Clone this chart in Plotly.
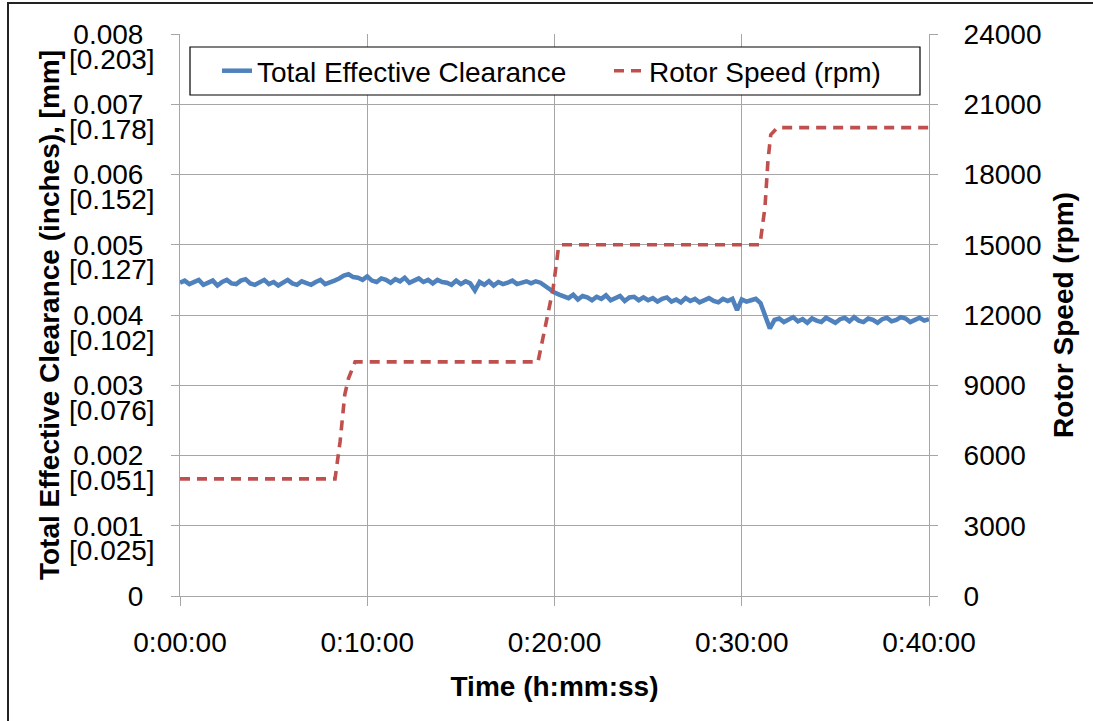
import plotly.graph_objects as go

# ---- data -------------------------------------------------------------
# Clearance trace sampled every 0.25 min, values in 1e-5 inch
clear_e5 = [
    # 0.00 - 8.00 min
    446, 449, 444, 447, 450, 443, 446, 449, 442, 447, 450, 445, 444, 449, 451, 445, 443,
    447, 450, 444, 447, 442, 446, 450, 445, 443, 448, 446, 443, 447, 450, 444, 446,
    # 8.25 - 9.50
    449, 452, 456, 458, 454, 453,
    # 9.75 - 14.00
    450, 455, 449, 447, 452, 450, 446, 451, 448, 453, 446, 449, 452, 447, 450, 445, 450, 447,
    # 14.25 - 19.25
    446, 443, 449, 444, 448, 445, 435, 447, 443, 448, 442, 447, 444, 446, 449, 444, 446,
    448, 445, 448, 446,
    # 19.50 - 20.50
    441, 436, 432, 429, 427,
    # 20.75 - 25.00
    424, 429, 422, 427, 425, 421, 426, 423, 428, 421, 424, 427, 420, 425, 426, 421, 425, 421,
    # 25.25 - 30.75
    424, 419, 423, 425, 419, 422, 418, 424, 420, 423, 418, 421, 424, 420, 418, 423, 420,
    423, 407, 422, 419, 421, 423,
    # 31.00 - 31.75
    417, 398, 381, 393,
    # 32.00 - 40.00
    395, 390, 393, 397, 391, 394, 389, 395, 392, 390, 396, 393, 389, 394, 396, 391, 397,
    392, 390, 395, 393, 389, 394, 396, 391, 393, 397, 395, 390, 393, 396, 392, 394,
]
clear_t = [i * 0.25 for i in range(len(clear_e5))]
clearance_in = [v / 1e5 for v in clear_e5]

# Rotor speed set-point history
speed_t = [0, 8.28, 8.55, 8.8, 9.0, 9.35, 19.12, 19.6, 19.92, 20.2, 20.35,
           30.97, 31.24, 31.4, 31.55, 31.9, 40]
speed_rpm = [5000, 5000, 6600, 8600, 9300, 10000, 10000, 11900, 13100, 14800, 15000,
             15000, 16600, 18600, 19700, 20000, 20000]

# Axis ticks
x_tickvals = [0, 10, 20, 30, 40]
x_ticktext = ["0:00:00", "0:10:00", "0:20:00", "0:30:00", "0:40:00"]
in_tickvals = [0, 0.001, 0.002, 0.003, 0.004, 0.005, 0.006, 0.007, 0.008]
in_ticktext = ["0", "0.001", "0.002", "0.003", "0.004", "0.005", "0.006", "0.007", "0.008"]
mm_tickvals = [0.001, 0.002, 0.003, 0.004, 0.005, 0.006, 0.007, 0.008]
mm_ticktext = ["[0.025]", "[0.051]", "[0.076]", "[0.102]", "[0.127]", "[0.152]", "[0.178]", "[0.203]"]
rpm_tickvals = [0, 3000, 6000, 9000, 12000, 15000, 18000, 21000, 24000]

# ---- layout geometry (pixels) -----------------------------------------
W, H = 1093, 721
L, R, T, B = 180, 929, 34, 596
PW, PH = R - L, B - T


def px(x):
    return (x - L) / PW


def py(y):
    return (B - y) / PH


FONT = "Liberation Sans, Arial, sans-serif"
FS = 28
GRID = "#a6a6a6"

fig = go.Figure()
fig.add_trace(go.Scatter(
    x=clear_t, y=clearance_in, mode="lines", name="Total Effective Clearance",
    line=dict(color="#4F81BD", width=4.5), yaxis="y", legend="legend",
))
fig.add_trace(go.Scatter(
    x=speed_t, y=speed_rpm, mode="lines", name="Rotor Speed (rpm)",
    line=dict(color="#C0504D", width=3.6, dash="10px,7px"), yaxis="y2", legend="legend2",
))

shapes = [
    # outer chart frame
    dict(type="rect", xref="paper", yref="paper", x0=px(8), x1=px(1110), y0=py(740), y1=py(3),
         line=dict(color="#222222", width=2), fillcolor="rgba(0,0,0,0)", layer="above"),
    # legend frame
    dict(type="rect", xref="paper", yref="paper", x0=px(190), x1=px(920), y0=py(95), y1=py(47),
         line=dict(color="#000000", width=1.2), fillcolor="white", layer="above"),
]

annotations = [
    dict(text=t, x=px(112), y=v, xref="paper", yref="y", xanchor="center", yanchor="middle",
         yshift=-25, showarrow=False, font=dict(family=FONT, size=FS, color="black"))
    for v, t in zip(mm_tickvals, mm_ticktext)
]

legend_common = dict(
    orientation="h", xanchor="left", yanchor="middle", y=py(71),
    bgcolor="rgba(0,0,0,0)", borderwidth=0,
    font=dict(family=FONT, size=FS, color="black"),
)

fig.update_layout(
    width=W, height=H,
    margin=dict(l=L, r=W - R, t=T, b=H - B),
    paper_bgcolor="white", plot_bgcolor="white",
    font=dict(family=FONT, size=FS, color="black"),
    showlegend=True,
    legend=dict(x=px(217), **legend_common),
    legend2=dict(x=px(609), **legend_common),
    xaxis=dict(
        range=[0, 40], tickvals=x_tickvals, ticktext=x_ticktext,
        showgrid=True, gridcolor=GRID, gridwidth=1,
        showline=True, linecolor=GRID, linewidth=1,
        ticks="outside", ticklen=9, tickcolor=GRID, ticklabelstandoff=12,
        zeroline=False,
        title=dict(text="Time (h:mm:ss)", font=dict(family=FONT, size=FS, weight="bold"), standoff=19),
    ),
    yaxis=dict(
        range=[0, 0.008], tickvals=in_tickvals, ticktext=in_ticktext,
        showgrid=True, gridcolor=GRID, gridwidth=1,
        showline=True, linecolor=GRID, linewidth=1,
        ticks="outside", ticklen=8, tickcolor=GRID, ticklabelstandoff=22,
        zeroline=False,
        title=dict(text="Total Effective Clearance (inches), [mm]",
                   font=dict(family=FONT, size=FS, weight="bold"), standoff=5),
    ),
    yaxis2=dict(
        range=[0, 24000], tickvals=rpm_tickvals, tickformat="d", overlaying="y", side="right",
        showgrid=False, showline=True, linecolor=GRID, linewidth=1,
        ticks="outside", ticklen=8, tickcolor=GRID, ticklabelstandoff=20,
        zeroline=False,
        title=dict(text="Rotor Speed (rpm)", font=dict(family=FONT, size=FS, weight="bold"), standoff=12),
    ),
    shapes=shapes,
    annotations=annotations,
)

fig.write_html("out.html")
